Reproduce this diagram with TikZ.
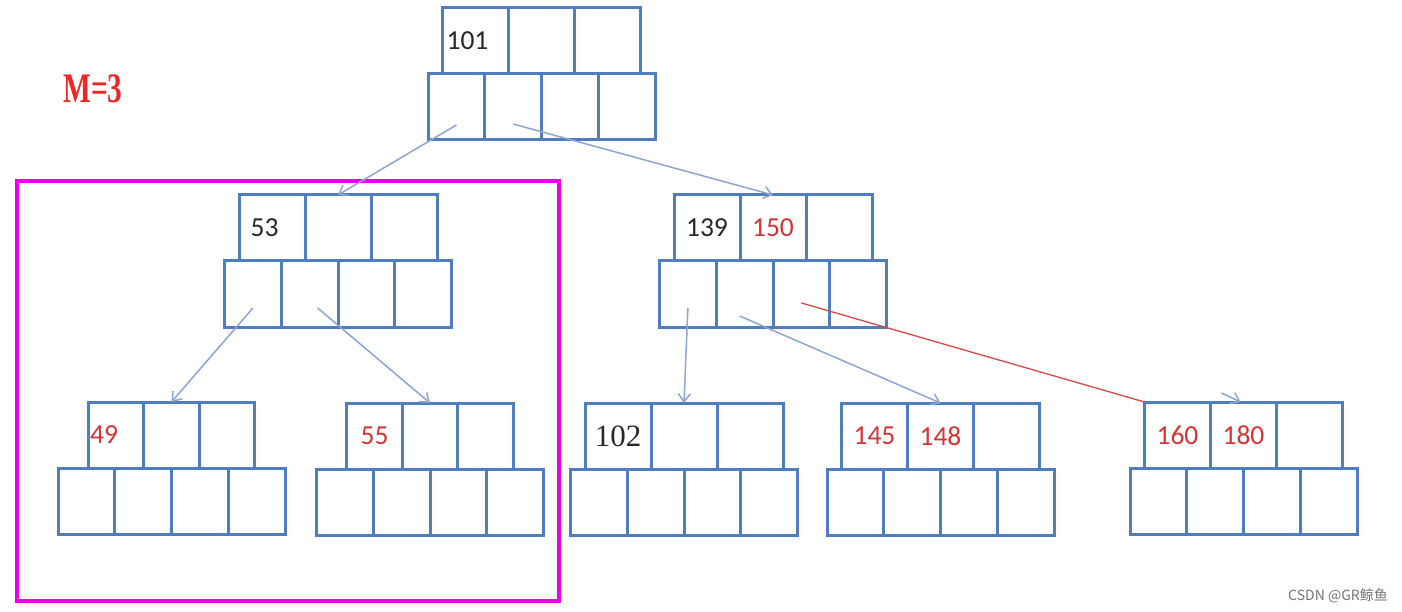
\documentclass[tikz,border=0pt]{standalone}
\usepackage{fontspec}
\setmainfont{Carlito}
\newfontfamily\keyserif{Liberation Serif}
\newfontfamily\cjkfont{Noto Sans CJK SC}
\usepackage{xcolor}
\usetikzlibrary{arrows.meta,positioning,calc}
\definecolor{boxblue}{RGB}{79,125,190}
\definecolor{linkblue}{RGB}{140,165,212}
\definecolor{keyred}{RGB}{214,52,52}
\definecolor{keyblack}{RGB}{40,40,40}
\definecolor{linkred}{RGB}{214,72,72}
\definecolor{selpink}{RGB}{232,0,232}
\definecolor{mred}{RGB}{238,38,38}
\tikzset{
  keycell/.style = {draw=boxblue, line width=3pt, minimum height=66pt, text=keyblack,
                    inner sep=0pt, outer sep=0pt, font=\fontsize{27.5}{29}\selectfont},
  ptrcell/.style = {draw=boxblue, line width=3pt, minimum width=56.75pt,
                    minimum height=66pt, inner sep=0pt, outer sep=0pt},
  link/.style    = {-{Straight Barb[length=8pt,width=12pt]}, draw=linkblue, line width=1.5pt},
  redlink/.style = {draw=linkred, line width=1.3pt},
  selbox/.style  = {draw=selpink, line width=4pt},
}
\newcommand{\rk}[1]{\textcolor{keyred}{#1}}
% one B-tree node: name, centre x, top y, key width, key 1, key 2
\newcommand{\bnode}[6]{%
  \node[keycell, minimum width=#4] (#1-k2) at (#2,#3+33) {#6};
  \node[keycell, minimum width=#4, left=0pt of #1-k2]  (#1-k1) {#5};
  \node[keycell, minimum width=#4, right=0pt of #1-k2] (#1-k3) {};
  \foreach \j/\dx in {1/-1.5,2/-0.5,3/0.5,4/1.5}
    \node[ptrcell] (#1-p\j) at (#2+\dx*56.75,#3+99) {};
}
\begin{document}
\begin{tikzpicture}[x=1pt,y=-1pt]
\useasboundingbox (0,0) rectangle (1402,612);
\node[text=mred, font=\keyserif\bfseries\fontsize{42}{44}\selectfont] (mval) at (93,89)
  {\scalebox{0.7}[1]{M=3}};
\draw[selbox] (17,181) rectangle (559,601);
% tree
\bnode{n101}{541.5}{8}{66}{101\hspace{16pt}\mbox{}}{}
\bnode{n53}{338}{195}{66}{53\hspace{15pt}\mbox{}}{}
\bnode{n139}{773}{195}{66}{139}{\rk{150}}
\bnode{n49}{171.5}{402}{55.5}{\rk{49\hspace{24pt}}}{}
\bnode{n55}{430}{403}{55.5}{\rk{55}}{}
\bnode{n102}{684}{403}{66}{{\keyserif\fontsize{31}{32}\selectfont 102}}{}
\bnode{n145}{940.5}{403}{66}{\rk{145}}{\rk{148}}
\bnode{n160}{1243.5}{402}{66}{\rk{160}}{\rk{180}}
% links
\draw[link] ([yshift=-18pt]n101-p1.center) -- (n53-k2.north);
\draw[link] ([yshift=-17pt]n101-p2.center) -- (n139-k2.north);
\draw[link] ([yshift=-14pt]n53-p1.center) -- (n49-k2.north);
\draw[link] ([xshift=8pt,yshift=-14pt]n53-p2.center) -- (n55-k2.north);
\draw[link] ([yshift=-14pt]n139-p1.center) -- (n102-k2.north);
\draw[link] ([xshift=-5pt,yshift=-22pt]n139-p2.center) -- (n145-k2.north);
\draw[redlink] ([yshift=-9pt]n139-p3.center) -- (n160-k1.north west);
\coordinate (stub) at ($(n160-k2.north)+(-22,-9)$);
\draw[link] (stub) -- ([xshift=-3pt]n160-k2.north);
\node[text=black!55, font=\cjkfont\fontsize{14}{16}\selectfont] (csdn) at (1338,596) {CSDN @GR鲸鱼};
\end{tikzpicture}
\end{document}
